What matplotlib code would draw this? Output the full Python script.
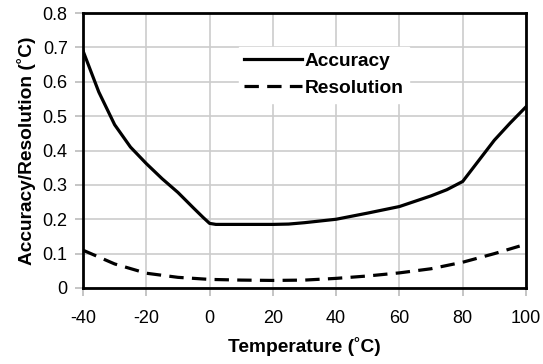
import numpy as np
import matplotlib
matplotlib.use("Agg")
from matplotlib import pyplot as plt

# values
temp = [-40, -35, -30, -25, -20, -15, -10, -5, -2, 0, 2, 10, 20, 25, 30,
        40, 50, 60, 70, 75, 80, 85, 90, 95, 100]
accuracy = [0.69, 0.57, 0.475, 0.41, 0.362, 0.318, 0.278, 0.232, 0.205, 0.188, 0.185,
            0.185, 0.185, 0.186, 0.19, 0.2, 0.218, 0.237, 0.268, 0.286, 0.31,
            0.37, 0.43, 0.48, 0.527]
res_temp = [-40, -30, -20, -10, 0, 10, 20, 30, 40, 50, 60, 70, 80, 90, 98]
resolution = [0.11, 0.07, 0.043, 0.031, 0.025, 0.023, 0.022, 0.023, 0.028, 0.035,
              0.044, 0.056, 0.075, 0.1, 0.122]
xticks = [-40, -20, 0, 20, 40, 60, 80, 100]
yticks = [0, 0.1, 0.2, 0.3, 0.4, 0.5, 0.6, 0.7, 0.8]
ytick_labels = ["0", "0.1", "0.2", "0.3", "0.4", "0.5", "0.6", "0.7", "0.8"]

plt.rcParams['font.family'] = ['Liberation Sans', 'DejaVu Sans']
plt.rcParams['axes.unicode_minus'] = False

fig = plt.figure(figsize=(5.43, 3.64), dpi=100)
ax = fig.add_axes([83 / 543, 1 - 288 / 364, 443 / 543, 275 / 364])

ax.plot(temp, accuracy, color="black", lw=2.3, label="Accuracy")
ax.plot(res_temp, resolution, color="black", lw=2.3, dashes=(4.5, 2.6), label="Resolution")

ax.set_xlim(-40, 100)
ax.set_ylim(0, 0.8)
ax.set_xticks(xticks)
ax.set_yticks(yticks)
ax.set_yticklabels(ytick_labels)
ax.grid(True, color="#cccccc", lw=1.2)
ax.set_axisbelow(True)
ax.tick_params(axis="both", colors="#bbbbbb", labelcolor="black", labelsize=13,
               length=6, width=1.2)
ax.tick_params(axis="x", pad=10)
ax.tick_params(axis="y", pad=5)

for s in ax.spines.values():
    s.set_linewidth(2)
    s.set_color("black")

ax.set_xlabel("Temperature (˚C)", fontsize=13.8, fontweight="bold", labelpad=7)
ax.set_ylabel("Accuracy/Resolution (˚C)", fontsize=13.8, fontweight="bold", labelpad=5)

leg = ax.legend(loc="center", bbox_to_anchor=(0.544, 0.776), frameon=True,
                fancybox=False, edgecolor="white", framealpha=1,
                prop={"weight": "bold", "size": 13.8}, handlelength=3.0,
                handletextpad=0.15, labelspacing=0.5, borderpad=0.3)

fig.savefig("out.png", dpi=100)
